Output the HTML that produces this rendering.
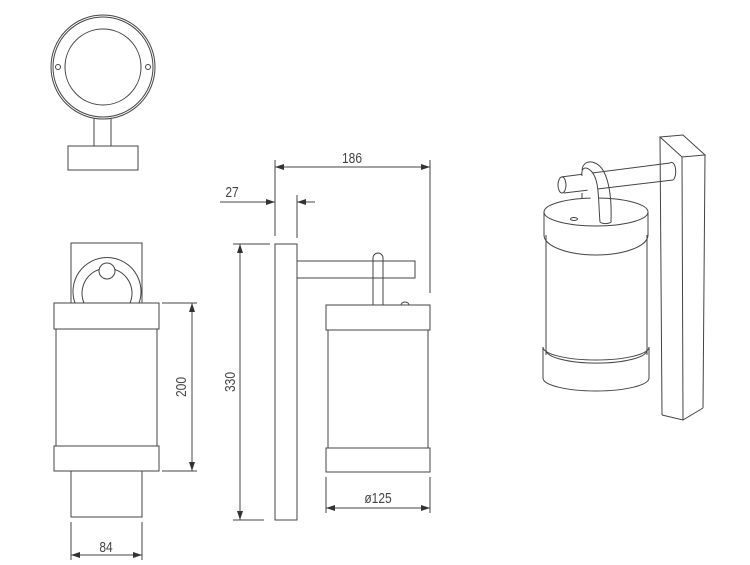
<!DOCTYPE html>
<html><head><meta charset="utf-8"><style>
html,body{margin:0;padding:0;background:#fff;}
svg{display:block}
text{font-family:"Liberation Sans",sans-serif;font-size:15px;fill:#444;}
</style></head><body>
<svg width="750" height="565" viewBox="0 0 750 565" xmlns="http://www.w3.org/2000/svg">
<g fill="none" stroke="#444" stroke-width="1">
<!-- top view -->
<circle cx="103" cy="67" r="52"/>
<circle cx="103" cy="67" r="50"/>
<circle cx="103" cy="67" r="38"/>
<circle cx="58" cy="67" r="2.5"/>
<circle cx="148" cy="67" r="2.5"/>
<line x1="94" y1="118" x2="94" y2="146"/>
<line x1="111" y1="118" x2="111" y2="146"/>
<rect x="68" y="146" width="70" height="24"/>
<!-- front view -->
<rect x="71" y="243" width="71" height="60"/>
<path d="M75 303 A34 34 0 1 1 139 303"/>
<path d="M84 303 A25 25 0 1 1 130 303"/>
<circle cx="107" cy="271" r="8" fill="#fff"/>
<rect x="54" y="303" width="105" height="26"/>
<rect x="56" y="329" width="101" height="117"/>
<rect x="54" y="446" width="105" height="25"/>
<rect x="71" y="471" width="71" height="46"/>
<line x1="162" y1="303" x2="197" y2="303"/>
<line x1="162" y1="471" x2="197" y2="471"/>
<line x1="192" y1="303" x2="192" y2="471"/>
<line x1="71" y1="522" x2="71" y2="560"/>
<line x1="142" y1="522" x2="142" y2="560"/>
<line x1="71" y1="555" x2="142" y2="555"/>
<!-- side view -->
<rect x="275" y="244" width="22" height="276"/>
<rect x="297" y="261" width="118" height="17"/>
<path d="M373 305 L373 258 A5 5 0 0 1 383 258 L383 305"/>
<rect x="326" y="305" width="104" height="25"/>
<rect x="328" y="330" width="100" height="118"/>
<rect x="326" y="448" width="104" height="24"/>
<path d="M401 305 A4 3 0 0 1 409 305"/>
<line x1="326" y1="477" x2="326" y2="513"/>
<line x1="430" y1="477" x2="430" y2="513"/>
<line x1="326" y1="508" x2="430" y2="508"/>
<line x1="240" y1="244" x2="240" y2="520"/>
<line x1="233" y1="244" x2="270" y2="244"/>
<line x1="233" y1="520" x2="264" y2="520"/>
<line x1="275" y1="160" x2="275" y2="236"/>
<line x1="430" y1="160" x2="430" y2="293"/>
<line x1="275" y1="167" x2="430" y2="167"/>
<line x1="297" y1="195" x2="297" y2="238"/>
<line x1="220" y1="202" x2="275" y2="202"/>
<line x1="297" y1="202" x2="315" y2="202"/>
<!-- iso view -->
<path d="M660 137 L683 135 L705 155 L682 157 Z"/>
<line x1="660" y1="137" x2="662" y2="415"/>
<line x1="682" y1="157" x2="683" y2="420"/>
<line x1="705" y1="155" x2="703" y2="408"/>
<path d="M662 415 L683 420 L703 408"/>
<line x1="561" y1="177" x2="670" y2="163"/>
<line x1="564" y1="193" x2="673" y2="180"/>
<ellipse cx="562" cy="185" rx="4" ry="8"/>
<path d="M670 163 A4 8.5 0 0 1 673 180"/>
<path d="M582 193 L582 207 A5.5 2 0 0 0 593 207 L593 191" fill="#fff"/>
<path d="M544 212 L544 235 A52 20 0 0 0 648 235 L648 212"/>
<ellipse cx="596" cy="212" rx="52" ry="14" fill="#fff"/>
<ellipse cx="574" cy="219" rx="3.5" ry="1.5"/>
<path d="M600 222 C598 200 600 178 590 170 C585 166 581 168 582 176" fill="#fff"/>
<path d="M611 221 C612 195 608 168 595 163 C588 160 583 163 582 170"/>
<path d="M600 222 A5.5 2 0 0 0 611 221"/>
<line x1="546" y1="235" x2="546" y2="355"/>
<line x1="647" y1="235" x2="647" y2="355"/>
<path d="M543 347 L543 378 A53 13 0 0 0 649 378 L649 347"/>
<path d="M543 347 A53 13 0 0 0 649 347"/>
<path d="M546 350 A50 13 0 0 0 647 350"/>
</g>
<g fill="#333">
<polygon points="192,303 189,312 195,312"/>
<polygon points="192,471 189,462 195,462"/>
<polygon points="71,555 80,552 80,558"/>
<polygon points="142,555 133,552 133,558"/>
<polygon points="326,508 335,505 335,511"/>
<polygon points="430,508 421,505 421,511"/>
<polygon points="240,244 237,253 243,253"/>
<polygon points="240,520 237,511 243,511"/>
<polygon points="275,167 284,164 284,170"/>
<polygon points="430,167 421,164 421,170"/>
<polygon points="275,202 266,199 266,205"/>
<polygon points="297,202 306,199 306,205"/>
</g>
<text transform="translate(106,552) scale(0.8,1)" text-anchor="middle">84</text>
<text transform="translate(186,387) rotate(-90) scale(0.8,1)" text-anchor="middle">200</text>
<text transform="translate(235,382) rotate(-90) scale(0.8,1)" text-anchor="middle">330</text>
<text transform="translate(378,503) scale(0.8,1)" text-anchor="middle">ø125</text>
<text transform="translate(352,163) scale(0.8,1)" text-anchor="middle">186</text>
<text transform="translate(232,197) scale(0.8,1)" text-anchor="middle">27</text>
</svg>
</body></html>
